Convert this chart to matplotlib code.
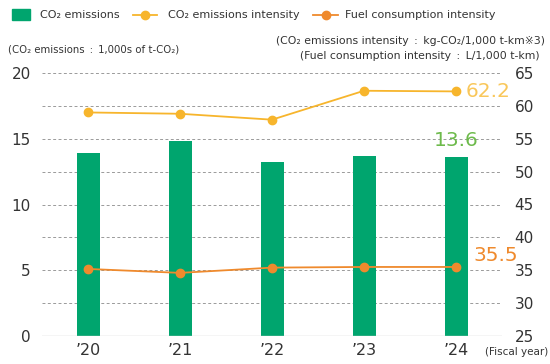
import matplotlib
matplotlib.use("Agg")
import matplotlib.pyplot as plt
from matplotlib.lines import Line2D
from matplotlib.patches import Rectangle

years = ["\u201920", "\u201921", "\u201922", "\u201923", "\u201924"]
co2_emissions = [13.9, 14.8, 13.2, 13.7, 13.6]
co2_intensity = [59.0, 58.8, 57.9, 62.3, 62.2]
fuel_intensity = [35.2, 34.6, 35.4, 35.5, 35.5]
left_ticks = [0, 5, 10, 15, 20]
right_ticks = [25, 30, 35, 40, 45, 50, 55, 60, 65]

GREEN = "#00A56E"
YELLOW = "#F7B52C"
ORANGE = "#EF8A2D"
LGREEN = "#6DBA4B"
TXT = "#333333"

plt.rcParams['font.family'] = ['DejaVu Sans']

W, H = 550, 364
fig = plt.figure(figsize=(5.5, 3.64), dpi=100)
ax = fig.add_axes([42 / W, 1 - 336 / H, 460 / W, 263 / H])
ax2 = ax.twinx()

x = list(range(len(years)))
ax.bar(x, co2_emissions, width=0.25, color=GREEN, zorder=2)
ax.set_xlim(-0.5, 4.5)
ax.set_ylim(0, 20)
ax.set_yticks(left_ticks)
ax2.set_ylim(25, 65)
ax2.set_yticks(right_ticks)

for yv in [2.5 * i for i in range(1, 9)]:
    ax.axhline(yv, color="#9a9a9a", lw=0.7, ls=(0, (3, 2.5)), zorder=1)
ax.axhline(0, color="#cccccc", lw=1.0, zorder=3)

ax2.plot(x, co2_intensity, color=YELLOW, lw=1.3, marker="o", ms=6, zorder=4)
ax2.plot(x, fuel_intensity, color=ORANGE, lw=1.3, marker="o", ms=6, zorder=4)

for a in (ax, ax2):
    for s in a.spines.values():
        s.set_visible(False)
    a.tick_params(length=0, labelsize=11, colors=TXT)
ax.tick_params(axis="y", pad=8)
ax2.tick_params(axis="y", pad=9)
ax.set_xticks(x)
ax.set_xticklabels(years)
ax.tick_params(axis="x", pad=5, labelsize=11.5)
ax.patch.set_visible(False)

ax.text(x[-1], co2_emissions[-1] + 1.3, f"{co2_emissions[-1]:.1f}", color=LGREEN,
        fontsize=14.5, ha="center", va="center", zorder=5)
ax2.text(x[-1] + 0.1, co2_intensity[-1], f"{co2_intensity[-1]:.1f}", color="#F9C75A",
         fontsize=14.5, ha="left", va="center")
ax2.text(x[-1] + 0.19, fuel_intensity[-1] + 1.8, f"{fuel_intensity[-1]:.1f}", color=ORANGE,
         fontsize=14.5, ha="left", va="center")

# legend drawn manually
def fx(px):
    return px / W

def fy(py):
    return 1 - py / H

fig.patches.append(Rectangle((fx(12), fy(20)), 18 / W, 11 / H, color=GREEN,
                             transform=fig.transFigure, figure=fig))
fig.text(fx(40), fy(15), "CO\u2082 emissions", fontsize=8, color=TXT, va="center")
for (x0, x1, col, tx, lab) in [(133, 157, YELLOW, 168, "CO\u2082 emissions intensity"),
                               (313, 338, ORANGE, 345, "Fuel consumption intensity")]:
    fig.add_artist(Line2D([fx(x0), fx(x1)], [fy(15), fy(15)], color=col, lw=1.3,
                          transform=fig.transFigure))
    fig.add_artist(Line2D([fx((x0 + x1) / 2)], [fy(15)], color=col, marker="o", ms=6,
                          transform=fig.transFigure))
    fig.text(fx(tx), fy(15), lab, fontsize=8, color=TXT, va="center")

fig.text(fx(8), fy(50), "(CO\u2082 emissions\u2002:\u20021,000s of t-CO\u2082)", fontsize=7.3,
         color=TXT, ha="left", va="center")
fig.text(fx(545), fy(41), "(CO\u2082 emissions intensity\u2002:\u2002kg-CO\u2082/1,000 t-km\u203b3)",
         fontsize=7.8, color=TXT, ha="right", va="center")
fig.text(fx(540), fy(56), "(Fuel consumption intensity\u2002:\u2002L/1,000 t-km)", fontsize=7.8,
         color=TXT, ha="right", va="center")
fig.text(fx(548), fy(352), "(Fiscal year)", fontsize=7.5, color=TXT, ha="right", va="center")

fig.savefig("out.png", dpi=100)
